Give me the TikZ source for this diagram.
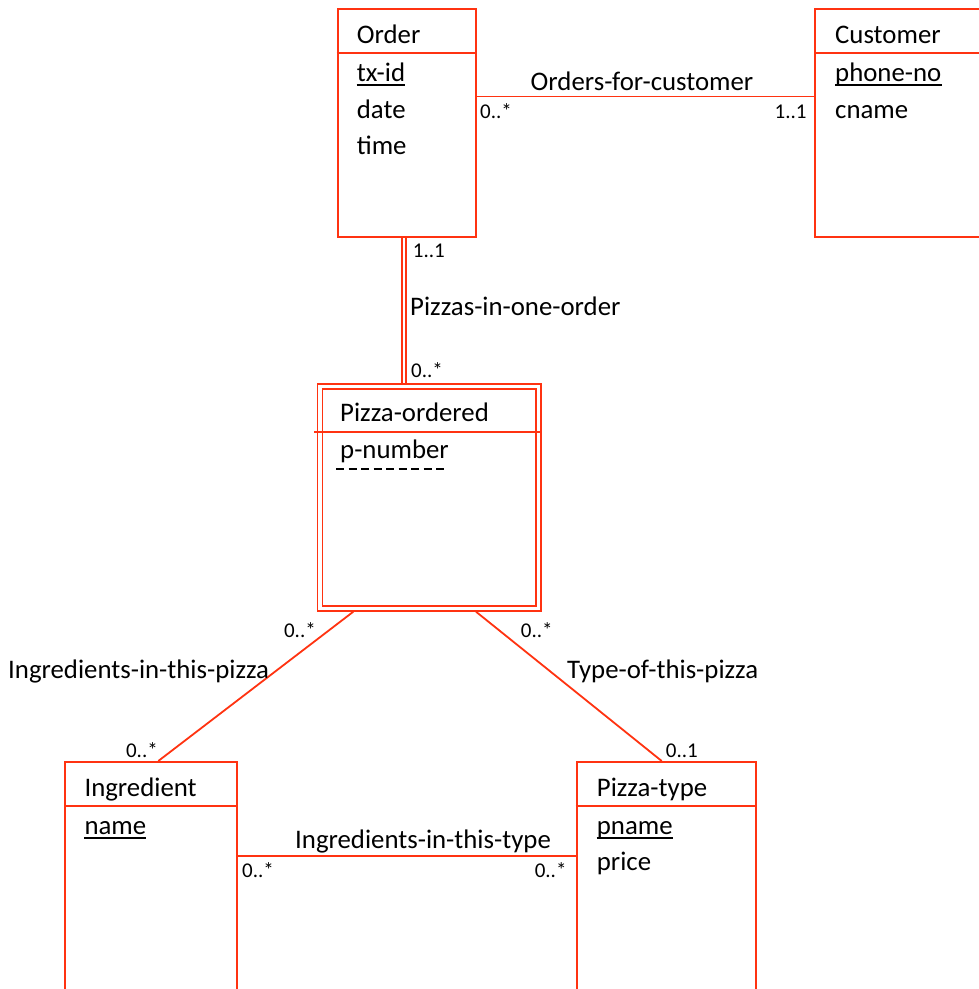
\documentclass[tikz,border=0pt]{standalone}
\usepackage{fontspec}
\setmainfont{Carlito}
\definecolor{er}{RGB}{255,51,17}
\begin{document}
\begin{tikzpicture}[x=1pt,y=-1pt,
  ent/.style={draw=er, line width=2pt, inner sep=0, anchor=north west},
  dent/.style={draw=er, line width=1.7pt, inner sep=0, anchor=north west},
  hdr/.style={draw=er, line width=2pt},
  rel/.style={draw=er, line width=1.8pt},
  big/.style={font=\fontsize{26.8}{30}\selectfont, inner sep=0, anchor=base west},
  small/.style={font=\fontsize{21}{24}\selectfont, inner sep=0},
  ul/.style={draw=black, line width=1.5pt}]
\useasboundingbox (0,0) rectangle (979,989);
% entities
\node[ent, minimum width=138.5pt, minimum height=227.5pt] (order) at (336.5,8) {};
\node[ent, minimum width=167pt, minimum height=227.5pt] (cust) at (814,8) {};
\node[dent, minimum width=223.3pt, minimum height=226.7pt] (poout) at (316.7,383.3) {};
\node[dent, minimum width=213.3pt, minimum height=216.7pt] (poin) at (321.7,388.3) {};
\node[ent, minimum width=172pt, minimum height=230pt] (ingr) at (64,761) {};
\node[ent, minimum width=179.3pt, minimum height=230pt] (ptype) at (575.7,761) {};
% header lines
\draw[hdr] (order.west |- 0,52.5) -- (order.east |- 0,52.5);
\draw[hdr] (cust.west |- 0,52.5) -- (cust.east |- 0,52.5);
\draw[rel] (314,432.3) -- (poout.east |- 0,432.3);
\draw[hdr] (ingr.west |- 0,806) -- (ingr.east |- 0,806);
\draw[hdr] (ptype.west |- 0,806) -- (ptype.east |- 0,806);
% texts
\node[big] (tOrder) at (356.7,43) {Order};
\node[big] (txid) at (356.7,81) {tx-id};
\node[big] (tdate) at (356.7,118) {date};
\node[big] (ttime) at (356.7,154.5) {time};
\draw[ul] ([yshift=-4pt]txid.base west) -- ([yshift=-4pt]txid.base east);
\node[big] (tCust) at (835,43) {Customer};
\node[big] (phone) at (835,81) {phone-no};
\node[big] (cname) at (835,118) {cname};
\draw[ul] ([yshift=-4pt]phone.base west) -- ([yshift=-4pt]phone.base east);
\node[big] (tPO) at (340,421.7) {Pizza-ordered};
\node[big] (pnum) at (340,458) {p-number};
\draw[draw=black, line width=1.3pt, dash pattern=on 8pt off 4.5pt] (336,469) -- (448,469);
\node[big] (tIngr) at (84.3,796) {Ingredient};
\node[big] (iname) at (84.3,834) {name};
\draw[ul] ([yshift=-4pt]iname.base west) -- ([yshift=-4pt]iname.base east);
\node[big] (tPT) at (596.7,796) {Pizza-type};
\node[big] (pname) at (596.7,834) {pname};
\node[big] (price) at (596.7,870.7) {price};
\draw[ul] ([yshift=-4pt]pname.base west) -- ([yshift=-4pt]pname.base east);
% connectors
\draw[rel] (order.east |- 0,96.5) -- (cust.west |- 0,96.5);
\draw[rel] (order.south -| 401.8,0) -- (poout.north -| 401.8,0);
\draw[rel] (order.south -| 406.2,0) -- (poout.north -| 406.2,0);
\draw[rel] (poout.south -| 353.3,0) -- (ingr.north -| 158.3,0);
\draw[rel] (poout.south -| 476,0) -- (ptype.north -| 661.7,0);
\draw[rel] (ingr.east |- 0,856) -- (ptype.west |- 0,856);
% relationship labels
\node[big, anchor=base] (lOfc) at (642,90) {Orders-for-customer};
\node[big] (lPio) at (410,315) {Pizzas-in-one-order};
\node[big] (lIitp) at (8,678) {Ingredients-in-this-pizza};
\node[big] (lTotp) at (567,678) {Type-of-this-pizza};
\node[big] (lIitt) at (295,848) {Ingredients-in-this-type};
% multiplicities
\node[small, anchor=base west] (m1) at (480,118) {0..*};
\node[small, anchor=base east] (m2) at (806.7,118) {1..1};
\node[small, anchor=base west] (m3) at (412.7,257) {1..1};
\node[small, anchor=base west] (m4) at (411,377) {0..*};
\node[small, anchor=base east] (m5) at (316,637) {0..*};
\node[small, anchor=base west] (m6) at (520.7,637) {0..*};
\node[small, anchor=base east] (m7) at (158,757) {0..*};
\node[small, anchor=base west] (m8) at (665.7,757) {0..1};
\node[small, anchor=base west] (m9) at (242,877) {0..*};
\node[small, anchor=base east] (m10) at (566.7,877) {0..*};
\end{tikzpicture}
\end{document}
